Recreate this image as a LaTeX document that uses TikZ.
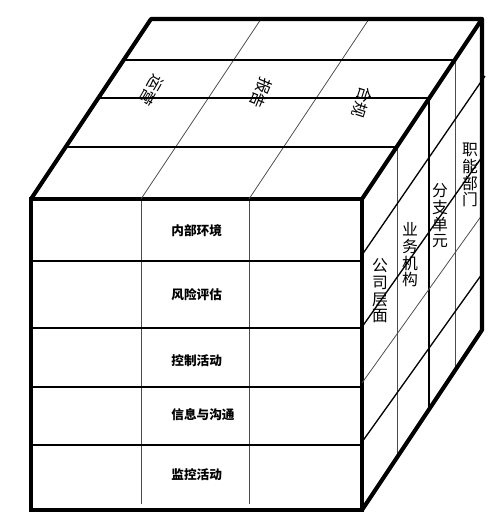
\documentclass[tikz,border=0pt]{standalone}
\usepackage{fontspec}
\newfontfamily\cjk{Noto Sans CJK SC}
\begin{document}
\begin{tikzpicture}[x=0.02cm, y=-0.02cm,
  cubeedge/.style={line width=2.3pt, line cap=round, line join=round},
  frontedge/.style={line width=1.9pt},
  gridline/.style={line width=0.75pt},
  faintline/.style={line width=0.45pt, black!70},
  fronttext/.style={font=\cjk\bfseries\fontsize{7.2}{8}\selectfont, inner sep=0pt, anchor=west},
  sidetext/.style={font=\cjk\fontsize{9}{9.5}\selectfont, align=center, inner sep=0pt},
  toptext/.style={font=\cjk\fontsize{9}{9.5}\selectfont, inner sep=0pt}]
\useasboundingbox (0,0) rectangle (500,520);

% front face
\draw[faintline] (141,199) -- (141,504);
\draw[faintline] (249,199) -- (249,504);
\foreach \y in {261,328,387,445}
  \draw[gridline] (31,\y) -- (362,\y);
\draw[frontedge] (31,199) rectangle (362,510);

% top face
\draw[faintline] (141,199) -- (261,19);
\draw[faintline] (249,199) -- (369,19);
\draw[gridline] (66,147) -- (397,147);
\draw[gridline] (98,98) -- (429,98);
\draw[gridline] (124,60) -- (455,60);

% right face
\draw[faintline] (397,147) -- (397,458);
\draw[gridline] (429,98) -- (429,409);
\draw[faintline] (455,60) -- (455,371);
\draw[gridline] (362,255) -- (485,76);
\draw[gridline] (362,327) -- (482,157);
\draw[faintline] (362,383) -- (482,215);
\draw[gridline] (362,442) -- (482,274);

% outer edges
\draw[cubeedge] (31,199) -- (151,19) -- (482,19) -- (362,199);
\draw[cubeedge] (482,19) -- (482,330) -- (362,510);

% components
\node[fronttext] (env)  at (171,231) {内部环境};
\node[fronttext] (risk) at (171,295) {风险评估};
\node[fronttext] (ctrl) at (171,361) {控制活动};
\node[fronttext] (info) at (171,415) {信息与沟通};
\node[fronttext] (mon)  at (171,475) {监控活动};

% objectives
\node[toptext, rotate=-120] (ops) at (152,90) {运营};
\node[toptext, rotate=-112] (rep) at (261,93) {报告};
\node[toptext, rotate=-108] (comp) at (362,102) {合规};

% levels
\node[sidetext] (corp) at (380,291) {公\\司\\层\\面};
\node[sidetext] (unit) at (410,255) {业\\务\\机\\构};
\node[sidetext] (div)  at (440,216) {分\\支\\单\\元};
\node[sidetext] (func) at (470,175) {职\\能\\部\\门};
\end{tikzpicture}
\end{document}
